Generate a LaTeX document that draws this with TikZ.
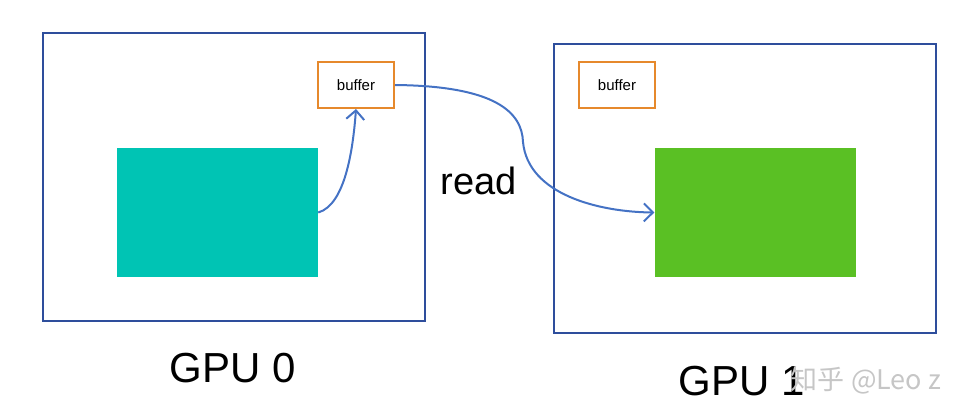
\documentclass[tikz,border=0pt]{standalone}
\usepackage{fontspec}
\setmainfont{Liberation Sans}
\newfontfamily\cjkfont{Noto Sans CJK SC}
\usetikzlibrary{arrows.meta}

\definecolor{gpublue}{HTML}{2E4E9C}
\definecolor{bufforange}{HTML}{E6892C}
\definecolor{srcteal}{HTML}{00C4B4}
\definecolor{dstgreen}{HTML}{5AC024}
\definecolor{linkblue}{HTML}{4472C4}

\begin{document}
\begin{tikzpicture}[
    x = 1pt,
    y = -1pt,
    gpu/.style = {draw = gpublue,
      line width = 2pt,
      minimum width = 382pt,
      minimum height = 288pt},
    buffbox/.style = {draw = bufforange,
      line width = 2pt,
      minimum width = 76pt,
      minimum height = 46pt,
      font = \fontsize{15}{18}\selectfont},
    block/.style = {minimum width = 201pt,
      minimum height = 129pt},
    biglabel/.style = {font = \fontsize{42}{50}\selectfont},
    link/.style = {linkblue,
      line width = 2pt,
      -{Straight Barb[length = 9pt, width = 18pt, line width = 2pt]}},
    ]

    \useasboundingbox (0, 0) rectangle (978, 420);

    \node at (234, 177) [gpu, name = gpu0] {};
    \node at (744.5, 188.5) [gpu, name = gpu1] {};

    \node at (356, 85) [buffbox, name = buf0] {buffer};
    \node at (617, 85) [buffbox, name = buf1] {buffer};

    \node at (217.5, 212.5) [block, fill = srcteal, name = src] {};
    \node at (755, 212.5) [block, fill = dstgreen, name = dst] {};

    \node at (479, 181) [font = \fontsize{38}{46}\selectfont, name = read] {read};

    \node at (233, 368) [biglabel, name = label0] {GPU 0};
    \node at (742, 381) [biglabel, name = label1] {GPU 1};

    \draw [link] (src.east) .. controls (345, 205) and (353, 150) .. (buf0.south);
    \draw [link] (buf0.east) .. controls (495, 86) and (522, 112) .. (523, 142)
    .. controls (528, 195) and (600, 212) .. (dst.west);

    % watermark
    \node at (866, 380) [text = gray!45, font = \cjkfont\fontsize{27}{32}\selectfont,
      name = mark] {知乎 @Leo z};
  \end{tikzpicture}
\end{document}
